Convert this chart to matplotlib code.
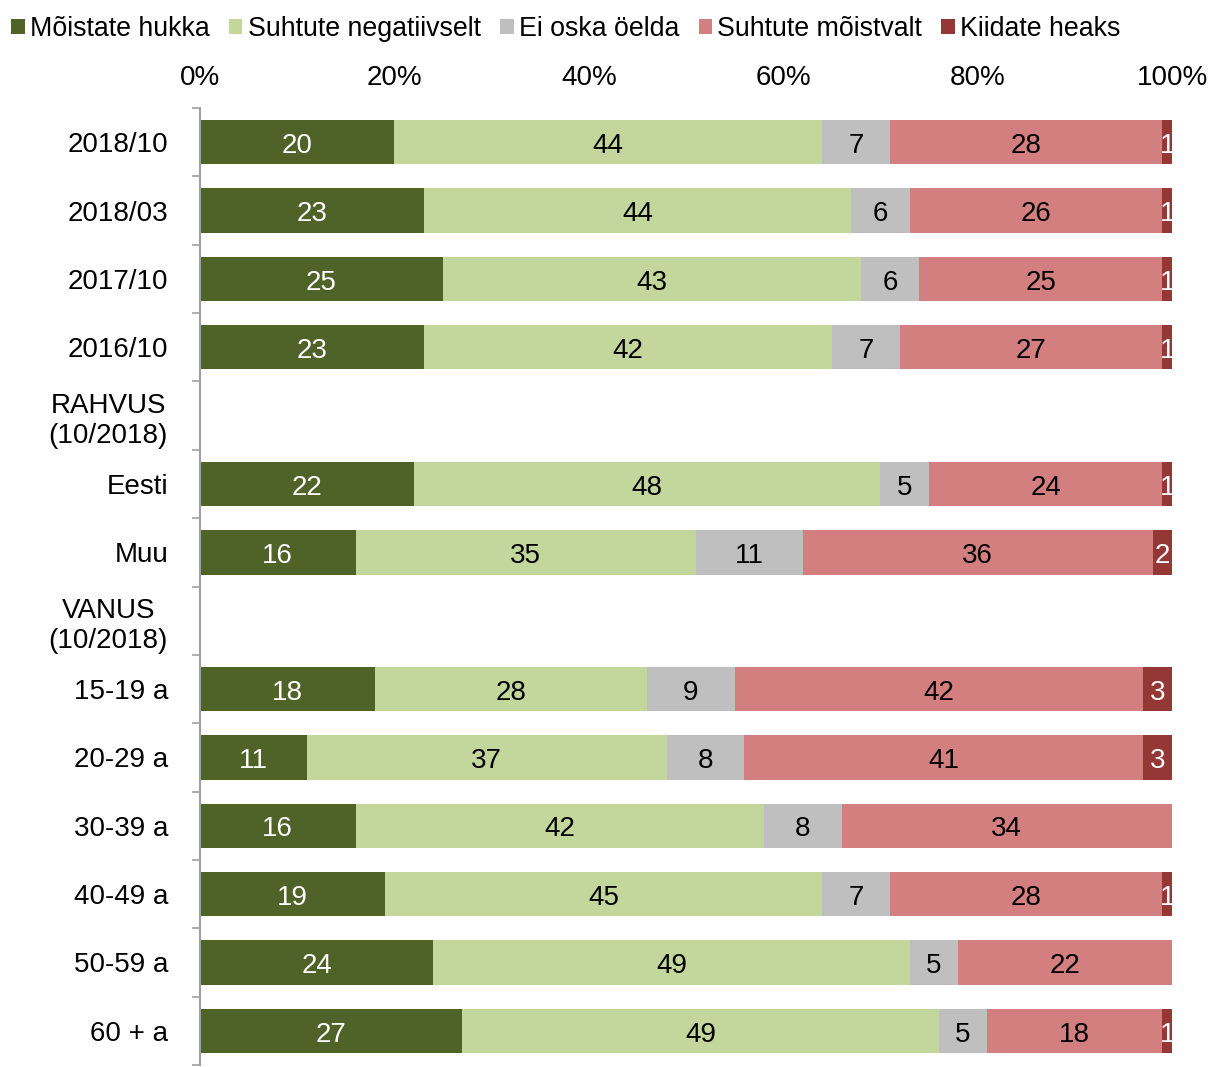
import matplotlib
matplotlib.use("Agg")
import matplotlib.pyplot as plt
import numpy as np

plt.rcParams['font.family'] = ['Liberation Sans', 'DejaVu Sans']

categories = ["2018/10", "2018/03", "2017/10", "2016/10", "RAHVUS\n(10/2018)",
              "Eesti", "Muu", "VANUS\n(10/2018)", "15-19 a", "20-29 a",
              "30-39 a", "40-49 a", "50-59 a", "60 + a"]
series_names = ["Mõistate hukka", "Suhtute negatiivselt", "Ei oska öelda",
                "Suhtute mõistvalt", "Kiidate heaks"]
moistate_hukka = [20, 23, 25, 23, 0, 22, 16, 0, 18, 11, 16, 19, 24, 27]
suhtute_negatiivselt = [44, 44, 43, 42, 0, 48, 35, 0, 28, 37, 42, 45, 49, 49]
ei_oska_oelda = [7, 6, 6, 7, 0, 5, 11, 0, 9, 8, 8, 7, 5, 5]
suhtute_moistvalt = [28, 26, 25, 27, 0, 24, 36, 0, 42, 41, 34, 28, 22, 18]
kiidate_heaks = [1, 1, 1, 1, 0, 1, 2, 0, 3, 3, 0, 1, 0, 1]
xticks = [0, 20, 40, 60, 80, 100]

series = [moistate_hukka, suhtute_negatiivselt, ei_oska_oelda, suhtute_moistvalt, kiidate_heaks]
colors = ["#4F6228", "#C3D69B", "#BFBFBF", "#D47F7F", "#953735"]
label_colors = ["white", "black", "black", "black", "white"]

fig = plt.figure(figsize=(12.11, 10.67), dpi=100)
ax = fig.add_axes([200/1211, 1 - 1065/1067, 972/1211, (1065-108)/1067])

y = np.arange(len(categories))
left = np.zeros(len(categories))
fs = 20
for name, vals, col, lc in zip(series_names, series, colors, label_colors):
    vals = np.array(vals, dtype=float)
    ax.barh(y, vals, left=left, height=0.65, color=col, label=name,
            edgecolor='none')
    for yi, v, l in zip(y, vals, left):
        if v > 0:
            ax.text(l + v/2, yi + 0.01, f"{int(v)}", ha='center', va='center_baseline',
                    color=lc, fontsize=fs)
    left += vals

ax.set_xlim(0, 100)
ax.set_ylim(len(categories) - 0.5, -0.5)
ax.xaxis.tick_top()
ax.set_xticks(xticks)
ax.set_xticklabels([f"{t}%" for t in xticks], fontsize=fs)
ax.tick_params(axis='x', length=0, pad=12)

ax.set_yticks(y)
ax.set_yticklabels(categories, fontsize=fs, multialignment='center')
ax.tick_params(axis='y', which='major', length=0, pad=23)
ax.set_yticks(np.arange(-0.5, len(categories), 1.0), minor=True)
ax.tick_params(axis='y', which='minor', length=6, width=1.2, color='#A0A0A0')

for s in ['top', 'right', 'bottom']:
    ax.spines[s].set_visible(False)
ax.spines['left'].set_color('#A0A0A0')
ax.spines['left'].set_linewidth(1.5)

fig.legend(loc='upper left', bbox_to_anchor=(-0.004, 1.0), ncol=5, frameon=False,
           fontsize=19.3, handlelength=0.5, handleheight=0.5, handletextpad=0.2,
           columnspacing=0.72, borderaxespad=0.2)

fig.savefig("out.png", dpi=100)
